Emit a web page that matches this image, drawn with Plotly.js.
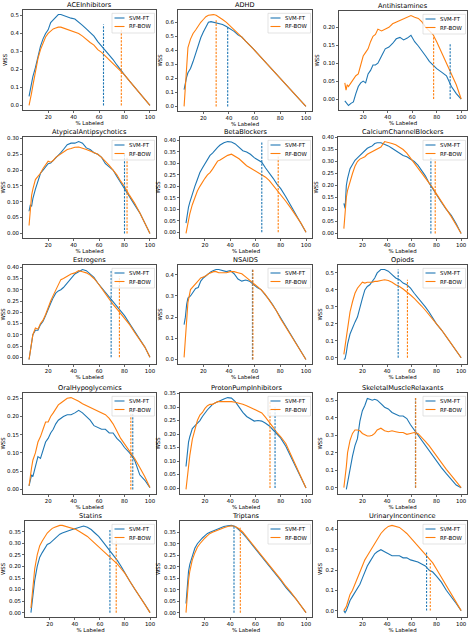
<!DOCTYPE html>
<html><head><meta charset="utf-8">
<script src="https://cdn.plot.ly/plotly-3.0.1.min.js"></script>
<style>html,body{margin:0;padding:0;background:#fff;} #chart{width:474px;height:638px;}</style>
</head><body><div id="chart"></div>
<script>
// ---------- data ----------
const pctLabeled = [5,6,7,8,10,12,14,16,18,20,22,24,26,28,30,32,35,38,41,44,47,50,53,56,59,62,65,68,71,74,77,80,84,88,92,96,100];
const panelNames = ['ACEInhibitors','ADHD','Antihistamines','AtypicalAntipsychotics','BetaBlockers','CalciumChannelBlockers','Estrogens','NSAIDS','Opiods','OralHypoglycemics','ProtonPumpInhibitors','SkeletalMuscleRelaxants','Statins','Triptans','UrinaryIncontinence'];
const seriesNames = ['SVM-FT','RF-BOW'];

const svmACEInhibitors = [0.05,0.09,0.13,0.16,0.21,0.27,0.33,0.37,0.40,0.42,0.46,0.475,0.49,0.505,0.505,0.50,0.49,0.485,0.48,0.465,0.445,0.425,0.405,0.385,0.355,0.33,0.31,0.28,0.255,0.225,0.195,0.17,0.135,0.10,0.07,0.035,0.0];
const rfACEInhibitors  = [0.0,0.03,0.07,0.11,0.19,0.26,0.31,0.35,0.38,0.40,0.415,0.425,0.43,0.435,0.435,0.43,0.425,0.415,0.41,0.40,0.385,0.365,0.35,0.335,0.31,0.295,0.275,0.25,0.23,0.21,0.19,0.17,0.135,0.10,0.07,0.035,0.0];
const svmADHD = [0.12,0.17,0.21,0.24,0.27,0.32,0.38,0.43,0.49,0.53,0.565,0.60,0.605,0.60,0.598,0.595,0.585,0.57,0.555,0.535,0.51,0.495,0.465,0.44,0.41,0.38,0.35,0.32,0.29,0.26,0.23,0.20,0.16,0.12,0.08,0.04,0.0];
const rfADHD  = [0.0,0.15,0.30,0.42,0.48,0.52,0.545,0.575,0.60,0.62,0.64,0.65,0.655,0.655,0.65,0.64,0.62,0.60,0.575,0.55,0.52,0.495,0.465,0.44,0.41,0.38,0.35,0.32,0.29,0.26,0.23,0.20,0.16,0.12,0.08,0.04,0.0];
const svmAntihistamines = [-0.005,-0.01,-0.015,-0.018,-0.012,-0.008,0.015,0.035,0.045,0.05,0.045,0.07,0.08,0.095,0.095,0.10,0.12,0.14,0.145,0.155,0.168,0.172,0.165,0.17,0.178,0.16,0.148,0.135,0.12,0.105,0.095,0.085,0.075,0.065,0.035,0.015,0.0];
const rfAntihistamines  = [0.045,0.025,0.04,0.035,0.045,0.055,0.065,0.07,0.095,0.12,0.13,0.14,0.16,0.175,0.18,0.195,0.19,0.195,0.20,0.21,0.215,0.22,0.225,0.23,0.233,0.228,0.225,0.215,0.20,0.19,0.18,0.16,0.13,0.10,0.075,0.04,0.0];
const svmAtypicalAntipsychotics = [0.07,0.09,0.085,0.11,0.14,0.165,0.19,0.20,0.21,0.22,0.222,0.23,0.24,0.245,0.255,0.265,0.28,0.285,0.285,0.29,0.285,0.27,0.265,0.255,0.25,0.24,0.22,0.21,0.20,0.18,0.16,0.14,0.115,0.09,0.065,0.035,0.0];
const rfAtypicalAntipsychotics  = [0.025,0.08,0.12,0.14,0.17,0.18,0.19,0.205,0.215,0.228,0.225,0.23,0.24,0.245,0.25,0.255,0.265,0.268,0.272,0.273,0.27,0.265,0.26,0.255,0.25,0.24,0.228,0.215,0.20,0.185,0.165,0.148,0.12,0.095,0.065,0.035,0.0];
const svmBetaBlockers = [0.04,0.08,0.11,0.13,0.17,0.20,0.23,0.26,0.28,0.30,0.32,0.335,0.345,0.36,0.37,0.38,0.39,0.395,0.393,0.385,0.37,0.355,0.35,0.34,0.325,0.315,0.305,0.28,0.26,0.235,0.21,0.19,0.155,0.115,0.08,0.04,0.0];
const rfBetaBlockers  = [-0.005,0.03,0.055,0.08,0.12,0.15,0.18,0.20,0.22,0.235,0.25,0.26,0.275,0.29,0.31,0.315,0.325,0.335,0.34,0.33,0.32,0.305,0.29,0.28,0.27,0.26,0.25,0.24,0.225,0.205,0.185,0.165,0.135,0.105,0.075,0.04,0.0];
const svmCalciumChannelBlockers = [0.125,0.105,0.20,0.23,0.27,0.29,0.305,0.315,0.325,0.335,0.345,0.355,0.36,0.365,0.375,0.378,0.378,0.372,0.365,0.355,0.345,0.335,0.325,0.32,0.31,0.30,0.285,0.265,0.24,0.21,0.185,0.16,0.13,0.10,0.075,0.04,0.0];
const rfCalciumChannelBlockers  = [0.02,0.10,0.15,0.18,0.22,0.25,0.28,0.30,0.31,0.315,0.32,0.33,0.335,0.34,0.345,0.35,0.36,0.383,0.38,0.375,0.37,0.36,0.35,0.335,0.315,0.295,0.275,0.255,0.235,0.215,0.19,0.165,0.135,0.10,0.07,0.035,0.0];
const svmEstrogens = [-0.01,0.03,0.07,0.10,0.12,0.12,0.145,0.16,0.185,0.215,0.24,0.265,0.285,0.295,0.30,0.31,0.33,0.35,0.37,0.38,0.39,0.385,0.37,0.355,0.33,0.31,0.285,0.265,0.245,0.23,0.21,0.185,0.15,0.115,0.08,0.045,0.0];
const rfEstrogens  = [-0.01,0.03,0.07,0.10,0.13,0.125,0.15,0.165,0.19,0.225,0.25,0.275,0.30,0.32,0.345,0.35,0.36,0.37,0.375,0.385,0.38,0.375,0.365,0.35,0.33,0.305,0.28,0.26,0.235,0.215,0.195,0.175,0.145,0.11,0.08,0.045,0.0];
const svmNSAIDS = [0.165,0.20,0.26,0.29,0.30,0.32,0.335,0.34,0.37,0.385,0.395,0.405,0.415,0.42,0.425,0.425,0.42,0.415,0.42,0.405,0.38,0.37,0.375,0.37,0.355,0.34,0.33,0.31,0.285,0.26,0.23,0.195,0.16,0.12,0.08,0.04,0.0];
const rfNSAIDS  = [0.01,0.10,0.20,0.27,0.33,0.345,0.36,0.37,0.385,0.39,0.395,0.405,0.41,0.415,0.415,0.41,0.41,0.41,0.415,0.415,0.41,0.405,0.39,0.375,0.36,0.345,0.33,0.31,0.285,0.26,0.23,0.195,0.155,0.12,0.08,0.04,0.0];
const svmOpiods = [-0.01,-0.005,0.03,0.08,0.14,0.18,0.21,0.24,0.30,0.35,0.40,0.42,0.43,0.45,0.47,0.50,0.52,0.52,0.51,0.49,0.47,0.46,0.44,0.43,0.41,0.38,0.355,0.33,0.30,0.27,0.235,0.20,0.165,0.125,0.085,0.04,0.0];
const rfOpiods  = [0.02,0.07,0.12,0.18,0.27,0.33,0.38,0.41,0.43,0.445,0.44,0.445,0.445,0.445,0.45,0.45,0.455,0.46,0.455,0.445,0.43,0.42,0.405,0.39,0.37,0.35,0.33,0.305,0.28,0.255,0.23,0.20,0.165,0.125,0.085,0.04,0.0];
const svmOralHypoglycemics = [0.01,0.03,0.04,0.035,0.065,0.09,0.085,0.11,0.13,0.14,0.155,0.165,0.18,0.19,0.195,0.20,0.205,0.205,0.21,0.217,0.21,0.20,0.19,0.175,0.17,0.165,0.165,0.155,0.155,0.14,0.13,0.115,0.10,0.08,0.04,0.025,0.005];
const rfOralHypoglycemics  = [0.01,0.04,0.06,0.08,0.10,0.13,0.145,0.165,0.185,0.185,0.20,0.21,0.22,0.232,0.237,0.243,0.25,0.252,0.248,0.242,0.235,0.23,0.225,0.22,0.215,0.208,0.205,0.195,0.18,0.16,0.14,0.125,0.105,0.085,0.06,0.035,0.005];
const svmProtonPumpInhibitors = [0.08,0.13,0.17,0.19,0.22,0.23,0.24,0.25,0.265,0.28,0.29,0.30,0.31,0.315,0.32,0.325,0.33,0.335,0.333,0.32,0.30,0.28,0.265,0.255,0.248,0.25,0.248,0.24,0.23,0.215,0.20,0.185,0.155,0.115,0.08,0.04,0.0];
const rfProtonPumpInhibitors  = [-0.005,0.04,0.08,0.12,0.18,0.22,0.25,0.27,0.28,0.295,0.305,0.31,0.31,0.315,0.32,0.32,0.32,0.322,0.32,0.318,0.315,0.31,0.305,0.298,0.29,0.285,0.278,0.262,0.245,0.225,0.205,0.19,0.165,0.125,0.085,0.045,0.0];
const svmSkeletalMuscleRelaxants = [null,null,-0.01,0.03,0.12,0.18,0.24,0.28,0.38,0.44,0.47,0.51,0.505,0.50,0.505,0.50,0.48,0.46,0.45,0.43,0.42,0.41,0.41,0.395,0.36,0.33,0.30,0.27,0.24,0.21,0.18,0.15,0.115,0.08,0.045,0.015,0.0];
const rfSkeletalMuscleRelaxants  = [0.0,0.05,0.12,0.20,0.27,0.31,0.33,0.33,0.325,0.31,0.30,0.295,0.295,0.30,0.31,0.33,0.34,0.325,0.32,0.325,0.32,0.315,0.315,0.305,0.31,0.315,0.31,0.29,0.265,0.24,0.21,0.18,0.14,0.105,0.07,0.035,0.0];
const svmStatins = [0.0,0.05,0.10,0.14,0.20,0.24,0.26,0.28,0.295,0.30,0.31,0.32,0.33,0.34,0.345,0.35,0.355,0.36,0.365,0.37,0.375,0.37,0.36,0.345,0.33,0.31,0.29,0.27,0.25,0.225,0.20,0.17,0.135,0.10,0.07,0.035,0.0];
const rfStatins  = [0.02,0.08,0.14,0.19,0.25,0.29,0.31,0.33,0.345,0.355,0.365,0.37,0.375,0.378,0.378,0.375,0.372,0.365,0.36,0.35,0.34,0.33,0.315,0.30,0.285,0.27,0.255,0.24,0.225,0.21,0.19,0.17,0.135,0.10,0.07,0.035,0.0];
const svmTriptans = [0.04,0.12,0.18,0.21,0.25,0.28,0.30,0.315,0.325,0.335,0.345,0.35,0.355,0.36,0.365,0.37,0.375,0.378,0.38,0.375,0.36,0.345,0.325,0.305,0.285,0.265,0.245,0.225,0.20,0.18,0.16,0.14,0.11,0.085,0.06,0.03,0.0];
const rfTriptans  = [0.0,0.08,0.14,0.18,0.23,0.26,0.285,0.30,0.315,0.325,0.335,0.345,0.35,0.355,0.36,0.365,0.37,0.375,0.378,0.375,0.365,0.35,0.33,0.31,0.29,0.27,0.25,0.23,0.205,0.185,0.165,0.145,0.115,0.09,0.06,0.03,0.0];
const svmUrinaryIncontinence = [0.0,-0.01,0.0,0.02,0.05,0.07,0.09,0.11,0.13,0.16,0.19,0.22,0.24,0.26,0.28,0.29,0.30,0.29,0.28,0.27,0.27,0.27,0.26,0.26,0.25,0.245,0.24,0.23,0.22,0.20,0.19,0.17,0.14,0.10,0.07,0.035,0.0];
const rfUrinaryIncontinence  = [0.0,0.01,0.02,0.04,0.08,0.10,0.13,0.16,0.19,0.22,0.25,0.27,0.29,0.31,0.33,0.35,0.38,0.40,0.415,0.42,0.415,0.41,0.395,0.38,0.36,0.34,0.32,0.30,0.28,0.26,0.235,0.205,0.165,0.125,0.085,0.04,0.0];

const svmSeries = [svmACEInhibitors,svmADHD,svmAntihistamines,svmAtypicalAntipsychotics,svmBetaBlockers,svmCalciumChannelBlockers,svmEstrogens,svmNSAIDS,svmOpiods,svmOralHypoglycemics,svmProtonPumpInhibitors,svmSkeletalMuscleRelaxants,svmStatins,svmTriptans,svmUrinaryIncontinence];
const rfSeries  = [rfACEInhibitors,rfADHD,rfAntihistamines,rfAtypicalAntipsychotics,rfBetaBlockers,rfCalciumChannelBlockers,rfEstrogens,rfNSAIDS,rfOpiods,rfOralHypoglycemics,rfProtonPumpInhibitors,rfSkeletalMuscleRelaxants,rfStatins,rfTriptans,rfUrinaryIncontinence];

// cut-off markers (dashed verticals): x position and height
const svmCutX   = [63.5,39,91,80,65,75.5,69.5,58.3,49,86.5,75.5,63,68,43,72];
const svmCutTop = [0.45,0.565,0.155,0.25,0.395,0.317,0.385,0.425,0.52,0.21,0.30,0.515,0.36,0.375,0.29];
const rfCutX    = [77.5,30,77.5,82,78,79,76,58.7,56.5,85,71.5,63.2,73,48,75];
const rfCutTop  = [0.42,0.62,0.177,0.243,0.33,0.31,0.36,0.425,0.46,0.21,0.32,0.515,0.32,0.37,0.24];

const yTickStep = [0.1,0.1,0.05,0.05,0.05,0.05,0.05,0.1,0.1,0.05,0.05,0.1,0.05,0.05,0.1];
const xTicks = [20,40,60,80,100];

// ---------- layout geometry (pixels) ----------
const W = 474, H = 638;
const boxes = [
  [23,156,10,110],[178,312,10,111],[339,467,11,110],
  [23,156,137,238],[180,312,137,238],[338,467,137,238],
  [23,156,265,364],[178,312,265,364],[338,467,265,364],
  [23,156,393,494],[180,312,393,494],[338,467,393,494],
  [25,156,521,617],[180,312,521,617],[338,467,521,617]
];
const BLUE = '#1f77b4', ORANGE = '#ff7f0e';
const FS = 5.4, FT = 6.6;
const px = v => v / W, py = v => 1 - v / H;

const traces = [], shapes = [], annotations = [];
const layout = {
  width: W, height: H, margin: {l:0,r:0,t:0,b:0},
  paper_bgcolor: '#fff', plot_bgcolor: '#fff', showlegend: false,
  font: {family: 'DejaVu Sans', size: FS, color: '#000'}
};

panelNames.forEach((name, i) => {
  const k = i === 0 ? '' : String(i + 1);
  const xr = 'x' + k, yr = 'y' + k;
  const [l, r, t, b] = boxes[i];
  const s = svmSeries[i], f = rfSeries[i];
  // y range like matplotlib autoscale (5% margins)
  const vals = s.concat(f).filter(v => v !== null).concat([0, svmCutTop[i], rfCutTop[i]]);
  const mn = Math.min(...vals), mx = Math.max(...vals), pad = (mx - mn) * 0.05;
  const step = yTickStep[i];
  layout['xaxis' + k] = {
    domain: [px(l), px(r)], anchor: yr, range: [0.25, 104.75],
    tickvals: xTicks, ticks: 'outside', ticklen: 2.2, tickwidth: 0.6, tickcolor: '#000',
    showline: true, mirror: true, linecolor: '#000', linewidth: 0.7,
    showgrid: false, zeroline: false, tickfont: {size: FS, color: '#000'},
    title: {text: '% Labeled', font: {size: FS, color: '#000'}, standoff: 1}
  };
  layout['yaxis' + k] = {
    domain: [py(b), py(t)], anchor: xr, range: [mn - pad, mx + pad],
    tick0: 0, dtick: step, tickformat: step < 0.1 ? '.2f' : '.1f',
    ticks: 'outside', ticklen: 2.2, tickwidth: 0.6, tickcolor: '#000',
    showline: true, mirror: true, linecolor: '#000', linewidth: 0.7,
    showgrid: false, zeroline: false, tickfont: {size: FS, color: '#000'},
    title: {text: 'WSS', font: {size: FS, color: '#000'}, standoff: 2}
  };
  traces.push({x: pctLabeled, y: s, xaxis: xr, yaxis: yr, mode: 'lines', name: seriesNames[0], line: {color: BLUE, width: 1.1}, connectgaps: false});
  traces.push({x: pctLabeled, y: f, xaxis: xr, yaxis: yr, mode: 'lines', name: seriesNames[1], line: {color: ORANGE, width: 1.1}});
  traces.push({x: [svmCutX[i], svmCutX[i]], y: [0, svmCutTop[i]], xaxis: xr, yaxis: yr, mode: 'lines', line: {color: BLUE, width: 1.1, dash: '2.2px,1.3px'}});
  traces.push({x: [rfCutX[i], rfCutX[i]], y: [0, rfCutTop[i]], xaxis: xr, yaxis: yr, mode: 'lines', line: {color: ORANGE, width: 1.1, dash: '2.2px,1.3px'}});

  // subplot title
  annotations.push({text: name, xref: 'paper', yref: 'paper', x: px((l + r) / 2), y: py(t - 5),
    xanchor: 'center', yanchor: 'middle', showarrow: false, borderpad: 0, font: {size: FT, color: '#000'}});

  // legend box (upper right)
  const bx1 = r - 1.5, bx0 = r - 44, by0 = t + 3.3, by1 = t + 23;
  shapes.push({type: 'rect', xref: 'paper', yref: 'paper', x0: px(bx0), x1: px(bx1), y0: py(by1), y1: py(by0),
    line: {color: '#d0d0d0', width: 0.6}, fillcolor: 'rgba(255,255,255,0.8)', layer: 'above'});
  [[BLUE, t + 8], [ORANGE, t + 16.5]].forEach((c, j) => {
    shapes.push({type: 'line', xref: 'paper', yref: 'paper', x0: px(bx0 + 2.5), x1: px(bx0 + 12.5), y0: py(c[1]), y1: py(c[1]),
      line: {color: c[0], width: 1.1}, layer: 'above'});
    annotations.push({text: seriesNames[j], xref: 'paper', yref: 'paper', x: px(bx0 + 14.5), y: py(c[1]),
      xanchor: 'left', yanchor: 'middle', showarrow: false, font: {size: FS, color: '#000'}});
  });
});
layout.shapes = shapes;
layout.annotations = annotations;
Plotly.newPlot('chart', traces, layout, {displayModeBar: false, staticPlot: true});
</script></body></html>
